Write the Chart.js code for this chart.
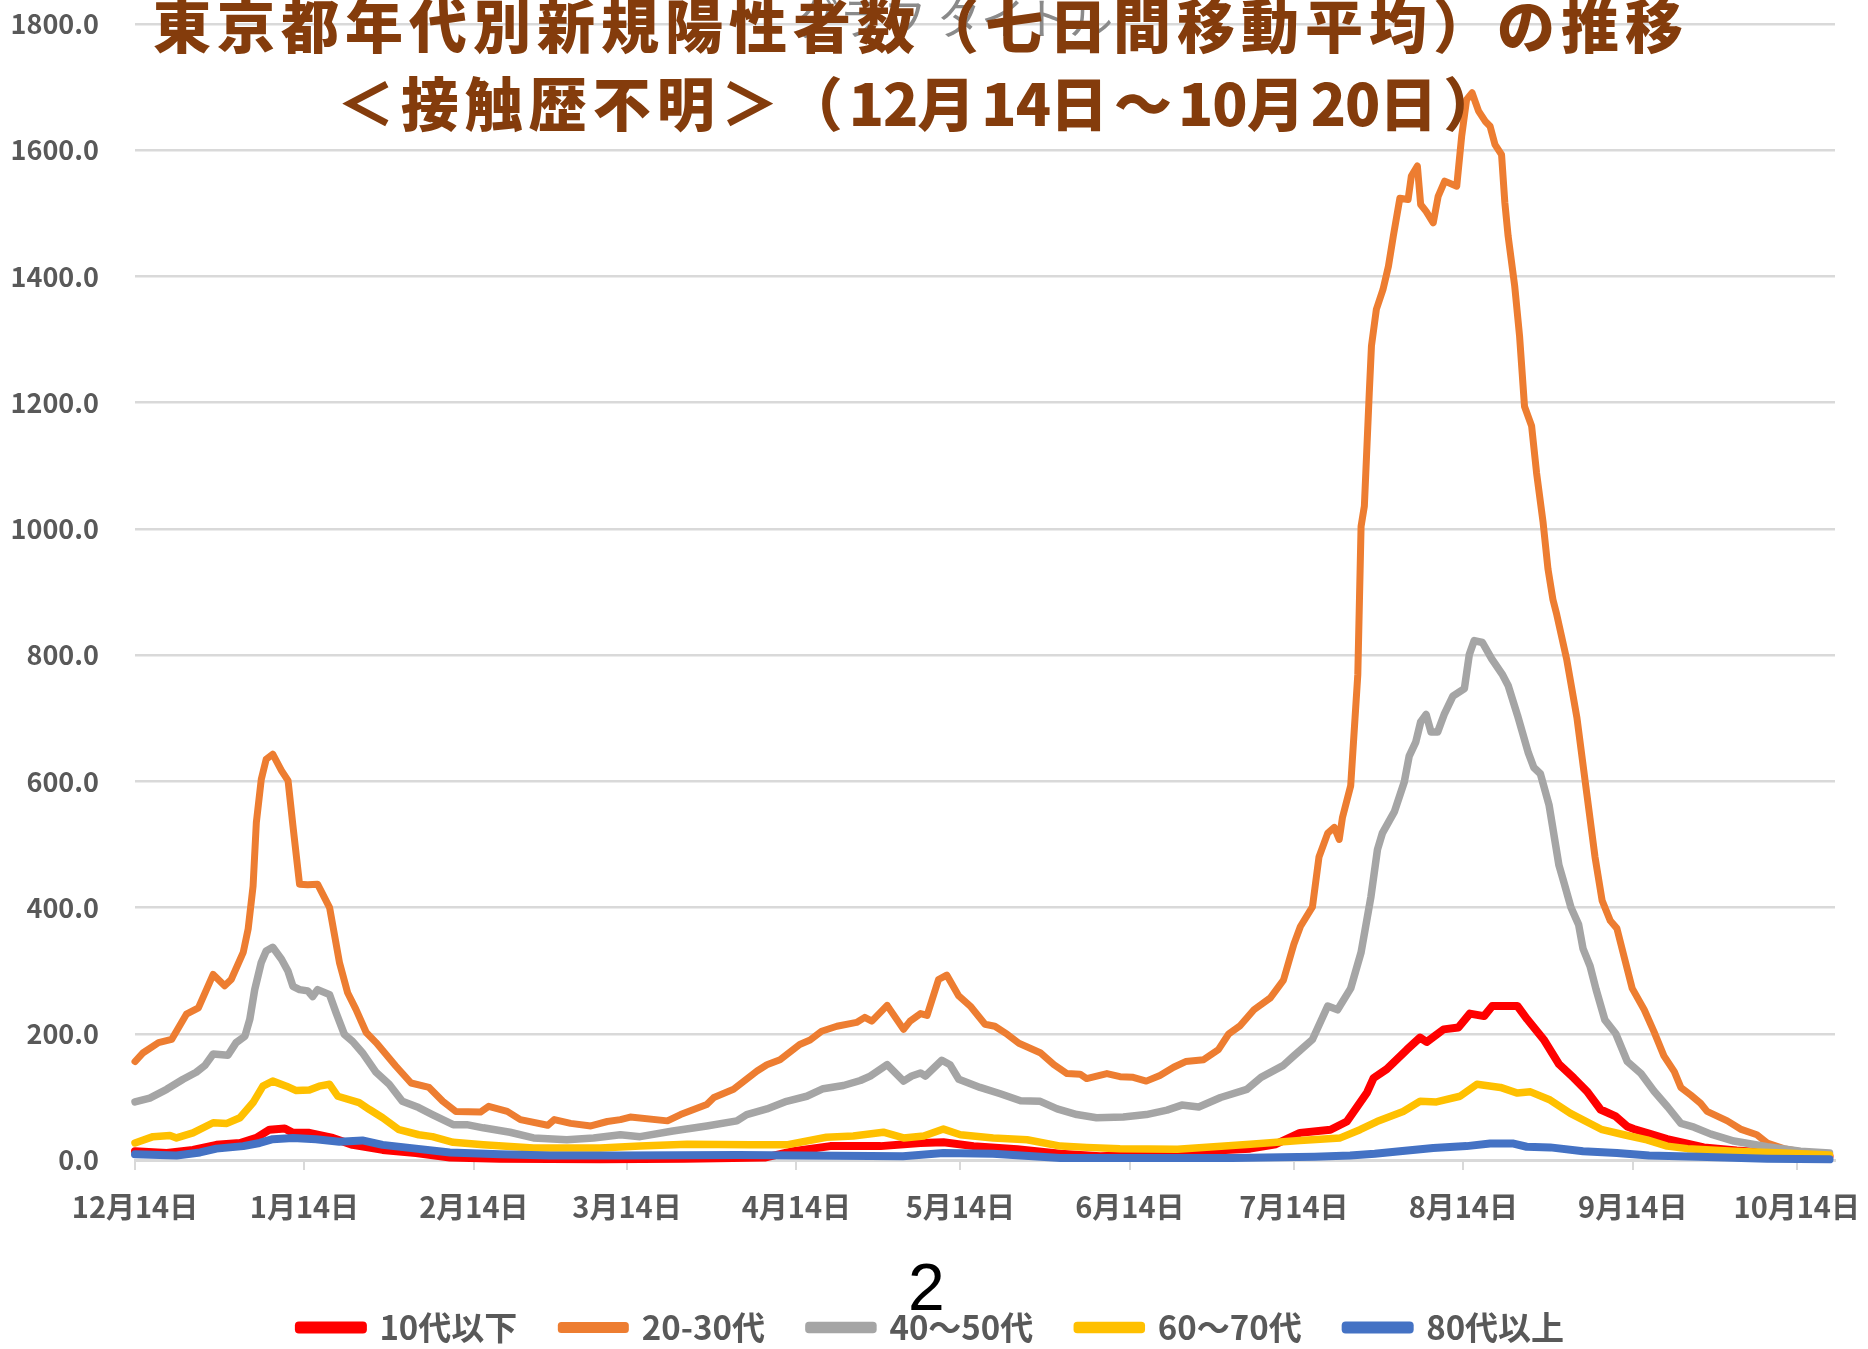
<!DOCTYPE html>
<html lang="ja">
<head>
<meta charset="UTF-8">
<title>東京都年代別新規陽性者数の推移</title>
<style>
  body { margin: 0; background: #fff; }
  #wrap { position: relative; width: 1868px; height: 1349px; overflow: hidden; }
  #grafico { position: absolute; left: 0; top: 0; }
  .ghost { position: absolute; left: 20px; top: -6px; width: 1868px; text-align: center;
           font: 44px/44px "Noto Sans CJK JP"; color: #8a8a8a; white-space: nowrap; }
  .titulo { position: absolute; width: 1830px; text-align: center; color: #843c0c;
            font: 900 58px/58px "Noto Sans CJK JP"; letter-spacing: 6px; white-space: nowrap; }
  .titulo .n { letter-spacing: -1px; }
  #t1 { top: -6px; left: 6px; }
  #t2 { top: 72px; left: 7px; }
  #pagina { position: absolute; left: 908px; top: 1254px; font: 66px/66px "Liberation Sans"; color: #000; }
</style>
</head>
<body>
<div id="wrap">
  <canvas id="grafico" width="1868" height="1354"></canvas>
  <div class="ghost">グラフ タイトル</div>
  <div class="titulo" id="t1">東京都年代別新規陽性者数（七日間移動平均）の推移</div>
  <div class="titulo" id="t2">＜接触歴不明＞（<span class="n">12</span>月<span class="n">14</span>日～<span class="n">10</span>月<span class="n">20</span>日）</div>
  <div id="pagina">2</div>
</div>

<script src="https://cdn.jsdelivr.net/npm/chart.js"></script>
<script>
// x = days since 12/14, y = 7-day average of new cases
const tickDays = [0, 31, 62, 90, 121, 151, 182, 212, 243, 274, 304];
const tickLabels = ['12月14日','1月14日','2月14日','3月14日','4月14日','5月14日','6月14日','7月14日','8月14日','9月14日','10月14日'];

// 10代以下
const age10 = [[0,14],[5.8,11],[10.6,16],[14.9,24],[19.2,27],[22.2,35],[24.6,48],[27.4,50],[28.9,43],[31.9,43],
  [36.2,35],[39.8,24],[45.3,16],[51.4,11],[57.6,4],[66.8,2],[85.1,1],[100.4,2],[115.4,4],[120.4,14],[127.2,22],
  [136.4,22],[143.7,27],[147.9,28],[153.4,22],[161.4,17],[169.3,10],[176.6,6],[182.6,8],[190.7,12],[197.7,15],
  [204,18],[208.7,25],[213.1,43],[218.7,48],[221.7,61],[225.4,107],[226.6,130],[229,144],[232.7,175],[235.1,194],
  [236.3,187],[239.4,207],[242.1,210],[244.2,232],[246.8,228],[248.3,244],[252.9,244],[254.7,223],[257.7,191],
  [260.5,152],[263.2,130],[265.6,109],[268.1,80],[270.9,69],[273,53],[274.2,49],[277.3,41],[280.3,33],[284,26],
  [287,20],[293,15],[301,10],[310,6]];

// 20-30代
const age20 = [[0,156],[1.5,170],[4.3,186],[6.7,191],[9.4,231],[11.6,241],[14.3,294],[16.4,276],[17.6,286],[19.8,329],
  [20.7,366],[21.6,434],[22.2,535],[23.1,603],[24,635],[25.2,643],[26.8,617],[28,601],[28.9,529],[30.1,437],[31.6,436],
  [33.4,437],[35.6,400],[37.4,313],[38.9,265],[40.4,239],[42.3,202],[44.1,186],[47.7,149],[50.5,122],[53.8,115],
  [56.3,93],[58.7,77],[63.2,76],[64.7,85],[68.1,77],[70.5,64],[75.5,55],[76.7,64],[79.7,58],[83.4,54],[86.4,61],
  [88.8,64],[90.6,68],[97.4,62],[99.8,72],[102.2,80],[104.6,88],[105.9,99],[109.5,112],[113.8,141],[115.6,151],
  [118,159],[121.6,183],[123.5,190],[125.6,204],[128.4,212],[132,218],[133.5,226],[134.8,220],[137.6,245],[140.6,207],
  [141.8,220],[143.7,232],[144.9,229],[147,286],[148.5,293],[150.7,260],[152.8,244],[155.5,215],[157.3,212],[159.6,199],
  [161.7,185],[165.6,170],[168.1,151],[170.5,137],[172.9,136],[174.1,129],[177.8,137],[180.2,132],[182.6,131],[185,125],
  [187.5,134],[190,147],[192.2,156],[195.5,159],[198.2,175],[200.1,200],[202.2,213],[204.7,238],[207.7,257],[210.1,285],
  [212,342],[213.2,370],[215.4,401],[216.6,480],[218.2,518],[219.4,527],[220.3,508],[220.9,543],[222.4,593],[223.7,769],
  [224.3,1004],[224.9,1036],[225.8,1216],[226.2,1290],[227.1,1348],[228.3,1379],[229.3,1416],[230.2,1464],[231.4,1524],
  [232.9,1522],[233.5,1559],[234.6,1575],[235.2,1514],[236.2,1503],[237.5,1485],[238.4,1527],[239.6,1551],[241.8,1543],
  [242.7,1622],[243.6,1680],[244.6,1691],[245.8,1662],[247,1646],[247.9,1638],[248.8,1609],[250,1593],[250.6,1517],
  [251.2,1464],[252.4,1385],[253.3,1305],[254.2,1194],[255.5,1163],[256.4,1089],[257.6,1010],[258.5,936],[259.4,888],
  [260.1,864],[261.9,794],[263.8,700],[265.6,580],[267.1,480],[268.4,411],[269.9,379],[271.1,367],[272.6,316],[273.9,272],
  [276.1,238],[277.9,203],[279.7,165],[281.6,140],[282.8,115],[284.6,103],[286.4,90],[287.6,77],[291.3,62],[293.7,49],
  [296.7,40],[298.6,27],[301.6,18],[304.7,13],[310,10]];

// 40～50代
const age40 = [[0,92],[2.7,98],[5.8,112],[8.8,128],[11.2,139],[12.8,150],[14.3,168],[17,166],[18.5,186],[20.1,196],
  [21,223],[21.9,270],[23.1,313],[24,331],[25.2,337],[26.8,318],[28,299],[28.9,275],[30.1,270],[31.6,268],[32.5,259],
  [33.4,270],[35.6,262],[36.8,233],[38.3,199],[39.8,188],[41.6,170],[44.1,139],[46.5,120],[48.9,93],[51.9,83],[54.4,72],
  [58.2,56],[60.7,56],[63.7,51],[68.6,44],[72.9,35],[79,32],[83.9,35],[88.8,40],[92.4,37],[98.4,46],[104.6,54],[110.1,62],
  [111.9,72],[115.6,81],[119.2,93],[122.9,101],[125.9,113],[129.6,118],[132.7,126],[134.5,133],[137.6,151],[140.6,125],
  [142.1,133],[143.7,138],[144.6,133],[147.6,158],[149.1,151],[150.7,128],[154.6,115],[158.3,105],[162,94],[165.6,93],
  [168.7,81],[172.3,72],[175.9,67],[180.8,68],[185,72],[188.8,79],[191.5,87],[194.6,84],[198.6,99],[203.4,112],[206,131],
  [210.1,150],[212,165],[215.4,191],[218.2,244],[220,238],[222.4,272],[224.3,329],[226.1,417],[227.3,492],[228.2,518],
  [230.4,552],[232.2,599],[233.1,640],[234.3,662],[235.2,694],[236.2,706],[237.1,678],[238.3,678],[239.5,706],[241.1,735],
  [243.2,747],[244.1,801],[245,823],[246.5,820],[248.2,794],[250.1,770],[251.2,752],[252.9,705],[254.9,645],[255.9,622],
  [257.1,612],[258.7,562],[260.5,467],[261.4,440],[262.7,400],[264.1,373],[264.9,335],[266.2,307],[267.3,270],[268.9,222],
  [270.9,200],[273,156],[275.5,137],[277.9,109],[280.4,84],[282.8,58],[285.2,52],[288.3,41],[292.5,30],[298.6,21],
  [304.7,14],[310,11]];

// 60～70代
const age60 = [[0,27],[3.3,37],[6.4,39],[7.6,35],[10.6,43],[14.3,59],[16.8,58],[19.2,67],[21.6,91],[23.4,117],[25.2,125],
  [27.7,117],[29.5,110],[31.9,111],[33.7,117],[35.6,120],[37.1,101],[41,91],[42.9,80],[45.3,67],[48.3,48],[51.9,40],
  [54.4,37],[58.2,28],[63.7,24],[72.9,19],[85.1,19],[92.4,22],[101,25],[112.6,24],[119.2,24],[126.5,36],[131.4,38],
  [136.9,44],[140.6,35],[144.3,38],[147.9,49],[151,40],[157,35],[163.2,32],[169.3,22],[174.1,20],[180.2,18],[190.7,17],
  [204,25],[213.1,31],[220.5,35],[224.1,48],[227.2,61],[232,77],[235.1,93],[238.1,92],[242.4,101],[245.5,120],[249.8,115],
  [252.9,106],[255.3,108],[258.9,95],[262.6,74],[268.4,48],[272.4,40],[276.6,32],[280.3,22],[284,18],[292.5,14],
  [301.6,11],[310,8]];

// 80代以上
const age80 = [[0,9],[7.6,7],[11.9,12],[14.9,18],[19.8,22],[22.8,27],[25.2,33],[28.9,35],[33.1,33],[37.4,29],[41.6,31],
  [45.3,24],[51.4,18],[57.6,12],[66.8,9],[76,7],[88.8,7],[110.4,8],[140.5,6],[147.9,11],[157,10],[169.3,3],[180.6,3],
  [200.7,3],[215.8,5],[222.3,7],[226.8,10],[231.4,14],[237.5,19],[243.6,22],[247.9,26],[252.2,26],[254.6,21],[258.9,20],
  [264.9,14],[271.1,11],[277,7],[286,5],[298.6,2],[310,1]];

const toXY = arr => arr.map(p => ({ x: p[0], y: p[1] }));

const fonteEixo = { family: 'Noto Sans CJK JP', weight: 'bold' };

function serie(label, pts, cor, largura, ordem) {
  return {
    label: label,
    data: toXY(pts),
    yAxisID: 'y',
    borderColor: cor,
    backgroundColor: cor,
    borderWidth: largura,
    borderCapStyle: 'round',
    borderJoinStyle: 'round',
    pointRadius: 0,
    tension: 0,
    fill: false,
    clip: false,
    order: ordem
  };
}

const ctx = document.getElementById('grafico').getContext('2d');

const grafico = new Chart(ctx, {
  type: 'line',
  data: {
    datasets: [
      serie('10代以下', age10, '#ff0000', 8, 5),
      serie('20-30代', age20, '#ed7d31', 7, 4),
      serie('40～50代', age40, '#a5a5a5', 7.5, 3),
      serie('60～70代', age60, '#ffc000', 7.5, 2),
      serie('80代以上', age80, '#4472c4', 8, 1)
    ]
  },
  options: {
    responsive: false,
    animation: false,
    devicePixelRatio: 1,
    layout: { padding: { top: 24, right: 5, left: 0, bottom: 0 } },
    plugins: {
      tooltip: { enabled: false },
      title: { display: false },
      legend: {
        position: 'bottom',
        reverse: true,
        labels: {
          boxWidth: 64,
          boxHeight: 4,
          padding: 44,
          color: '#595959',
          font: { family: 'Noto Sans CJK JP', size: 33, weight: 'bold' }
        }
      }
    },
    scales: {
      x: {
        type: 'linear',
        min: 0,
        max: 311,
        afterBuildTicks: scale => { scale.ticks = tickDays.map(v => ({ value: v })); },
        afterFit: scale => { scale.height = 107; scale.paddingLeft = 0; scale.paddingRight = 0; },
        ticks: {
          autoSkip: false,
          maxRotation: 0,
          padding: 20,
          color: '#595959',
          font: { ...fonteEixo, size: 29 },
          callback: (value, index) => tickLabels[index]
        },
        grid: { drawOnChartArea: false, drawTicks: true, tickLength: 10, color: '#d9d9d9', lineWidth: 2 },
        border: { display: true, color: '#d9d9d9', width: 3 }
      },
      y: {
        min: 0,
        max: 1800,
        afterFit: scale => { scale.width = 135; scale.paddingTop = 0; scale.paddingBottom = 0; },
        ticks: {
          stepSize: 200,
          padding: 36,
          color: '#595959',
          font: { ...fonteEixo, size: 27 },
          callback: v => v.toFixed(1)
        },
        grid: { color: '#d9d9d9', lineWidth: 2.5, drawTicks: false },
        border: { display: false }
      },
      // empty strip on the right, keeps the plot edge where the original has it
      margem: {
        position: 'right',
        display: true,
        afterFit: scale => { scale.width = 28; scale.paddingTop = 0; scale.paddingBottom = 0; },
        ticks: { display: false },
        grid: { display: false },
        border: { display: false }
      }
    }
  }
});
</script>
</body>
</html>
